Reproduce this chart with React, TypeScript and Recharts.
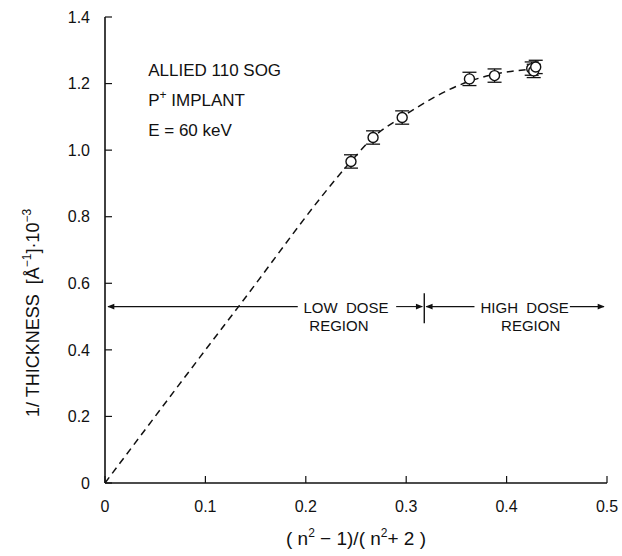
import React from 'react';
import { ComposedChart, Line, Scatter, XAxis, YAxis, ErrorBar, ReferenceLine, ReferenceDot } from 'recharts';

// axis ticks
const xTicks = [0, 0.1, 0.2, 0.3, 0.4, 0.5];
const xTickLabels = ['0', '0.1', '0.2', '0.3', '0.4', '0.5'];
const yTicks = [0, 0.2, 0.4, 0.6, 0.8, 1.0, 1.2, 1.4];
const yTickLabels = ['0', '0.2', '0.4', '0.6', '0.8', '1.0', '1.2', '1.4'];

// measured points: (n^2-1)/(n^2+2) vs 1/thickness
const nFactor = [0.245, 0.267, 0.296, 0.363, 0.388, 0.425, 0.427, 0.429];
const invThickness = [0.966, 1.038, 1.098, 1.214, 1.224, 1.245, 1.238, 1.25];
const errBar = [0.02, 0.02, 0.02, 0.02, 0.02, 0.02, 0.02, 0.02];

// dashed guide line
const fitX = [0, 0.133, 0.245, 0.267, 0.296, 0.363, 0.388, 0.427];
const fitY = [0, 0.53, 0.966, 1.038, 1.1, 1.207, 1.228, 1.244];

// dose regions
const regionLevel = 0.53;
const regionBounds = [0, 0.318, 0.5];

const points = nFactor.map((x, i) => ({ x, y: invThickness[i], err: errBar[i] }));
const fitCurve = fitX.map((x, i) => ({ x, y: fitY[i] }));

const FONT = '"Liberation Sans", Arial, sans-serif';
const INK = '#111';

const textAt = (content: React.ReactNode, anchor: 'start' | 'middle' | 'end', dy: number, size = 15) =>
  (props: any) => {
    const vb = props.viewBox || { x: 0, y: 0, width: 0, height: 0 };
    return (
      <text
        x={vb.x + (vb.width || 0) / 2}
        y={vb.y + (vb.height || 0) / 2}
        dy={dy}
        textAnchor={anchor}
        fontSize={size}
        fontFamily={FONT}
        fill={INK}
        xmlSpace="preserve"
        style={{ whiteSpace: 'pre' }}
      >
        {content}
      </text>
    );
  };

const YLabel = (props: any) => {
  const vb = props.viewBox;
  const x = vb.x - 6;
  const y = vb.y + vb.height * 0.635;
  return (
    <text x={x} y={y} transform={`rotate(-90 ${x} ${y})`} textAnchor="middle" fontSize={18} fontFamily={FONT} fill={INK} xmlSpace="preserve" style={{ whiteSpace: 'pre' }}>
      1/ THICKNESS  [Å<tspan dy={-8} fontSize={12}>−1</tspan><tspan dy={8}>]·10</tspan><tspan dy={-8} fontSize={12}>−3</tspan>
    </text>
  );
};

const XLabel = (props: any) => {
  const vb = props.viewBox;
  return (
    <text x={vb.x + vb.width / 2} y={vb.y + 62} textAnchor="middle" fontSize={19} fontFamily={FONT} fill={INK} xmlSpace="preserve" style={{ whiteSpace: 'pre' }}>
      ( n<tspan dy={-8} fontSize={12}>2</tspan><tspan dy={8}> − 1)/( n</tspan><tspan dy={-8} fontSize={12}>2</tspan><tspan dy={8}>+ 2 )</tspan>
    </text>
  );
};

const OpenCircle = (p: any) => (
  <circle cx={p.cx} cy={p.cy} r={5} fill="#fff" stroke={INK} strokeWidth={1.4} />
);

export default function App() {
  const axisLine = { stroke: INK, strokeWidth: 1.6 };
  const tickLine = { stroke: INK, strokeWidth: 1.2 };
  const tickFont = { fill: INK, fontSize: 16, fontFamily: FONT };
  const seg = { stroke: INK, strokeWidth: 1.1, ifOverflow: 'visible' as const };
  return (
    <div style={{ width: 622, height: 556, background: '#fff' }}>
      <style>{'html, body { margin: 0; overflow: hidden; } .recharts-surface { overflow: visible; }'}</style>
      <svg width={0} height={0} style={{ position: 'absolute' }}>
        <defs>
          <marker id="arrow" viewBox="0 0 10 10" refX="9" refY="5" markerWidth="9" markerHeight="7" markerUnits="userSpaceOnUse" orient="auto-start-reverse">
            <path d="M0,1 L10,5 L0,9 z" fill={INK} />
          </marker>
        </defs>
      </svg>
      <ComposedChart width={622} height={556} margin={{ top: 17, right: 15, bottom: 8, left: 45 }}>
        <XAxis
          type="number"
          dataKey="x"
          domain={[0, 0.5]}
          ticks={xTicks}
          tickFormatter={(v: number) => xTickLabels[xTicks.indexOf(v)]}
          tickSize={-7}
          tickMargin={25}
          height={65}
          axisLine={axisLine}
          tickLine={tickLine}
          tick={tickFont}
          allowDataOverflow
          label={<XLabel />}
        />
        <XAxis
          xAxisId="top"
          orientation="top"
          type="number"
          dataKey="x"
          domain={[0, 0.5]}
          ticks={[0.1, 0.2, 0.3, 0.4]}
          tickFormatter={() => ''}
          tickSize={-7}
          height={0}
          axisLine={axisLine}
          tickLine={tickLine}
        />
        <YAxis
          type="number"
          domain={[0, 1.4]}
          ticks={yTicks}
          tickFormatter={(v: number) => yTickLabels[yTicks.indexOf(v)]}
          tickSize={-7}
          tickMargin={22}
          width={60}
          axisLine={axisLine}
          tickLine={tickLine}
          tick={tickFont}
          allowDataOverflow
          label={<YLabel />}
        />
        <YAxis
          yAxisId="right"
          orientation="right"
          type="number"
          domain={[0, 1.4]}
          ticks={[0.2, 0.4, 0.6, 0.8, 1.0, 1.2]}
          tickFormatter={() => ''}
          tickSize={-7}
          width={0}
          axisLine={axisLine}
          tickLine={tickLine}
        />

        <Line
          data={fitCurve}
          dataKey="y"
          type="monotone"
          stroke={INK}
          strokeWidth={1.5}
          strokeDasharray="7 5"
          dot={false}
          isAnimationActive={false}
        />
        <Scatter data={points} dataKey="y" shape={<OpenCircle />} isAnimationActive={false}>
          <ErrorBar dataKey="err" direction="y" width={7} stroke={INK} strokeWidth={1.3} />
        </Scatter>

        {/* dose regions */}
        <ReferenceLine {...seg} segment={[{ x: regionBounds[0] + 0.003, y: regionLevel }, { x: 0.192, y: regionLevel }]} markerStart="url(#arrow)" />
        <ReferenceLine {...seg} segment={[{ x: 0.29, y: regionLevel }, { x: regionBounds[1] - 0.002, y: regionLevel }]} markerEnd="url(#arrow)" />
        <ReferenceLine {...seg} strokeWidth={1.4} segment={[{ x: regionBounds[1], y: regionLevel - 0.05 }, { x: regionBounds[1], y: regionLevel + 0.04 }]} />
        <ReferenceLine {...seg} segment={[{ x: regionBounds[1] + 0.002, y: regionLevel }, { x: 0.368, y: regionLevel }]} markerStart="url(#arrow)" />
        <ReferenceLine {...seg} segment={[{ x: 0.463, y: regionLevel }, { x: regionBounds[2] - 0.003, y: regionLevel }]} markerEnd="url(#arrow)" />

        <ReferenceDot x={0.24} y={regionLevel} r={0} fill="none" stroke="none" ifOverflow="visible" label={textAt('LOW  DOSE', 'middle', 6)} />
        <ReferenceDot x={0.233} y={regionLevel} r={0} fill="none" stroke="none" ifOverflow="visible" label={textAt('REGION', 'middle', 24)} />
        <ReferenceDot x={0.418} y={regionLevel} r={0} fill="none" stroke="none" ifOverflow="visible" label={textAt('HIGH  DOSE', 'middle', 6)} />
        <ReferenceDot x={0.424} y={regionLevel} r={0} fill="none" stroke="none" ifOverflow="visible" label={textAt('REGION', 'middle', 24)} />

        {/* sample description */}
        <ReferenceDot x={0.043} y={1.223} r={0} fill="none" stroke="none" ifOverflow="visible" label={textAt('ALLIED 110 SOG', 'start', 0, 17)} />
        <ReferenceDot x={0.043} y={1.133} r={0} fill="none" stroke="none" ifOverflow="visible"
          label={textAt(<>P<tspan dy={-7} fontSize={12}>+</tspan><tspan dy={7}> IMPLANT</tspan></>, 'start', 0, 17)} />
        <ReferenceDot x={0.043} y={1.043} r={0} fill="none" stroke="none" ifOverflow="visible" label={textAt('E = 60 keV', 'start', 0, 17)} />
      </ComposedChart>
    </div>
  );
}
